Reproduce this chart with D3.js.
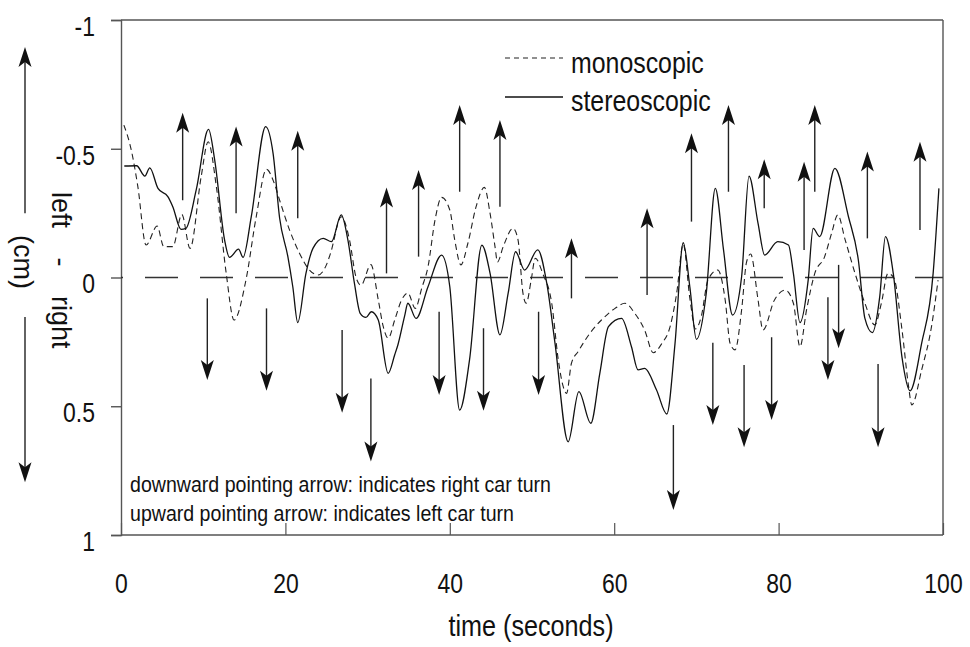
<!DOCTYPE html>
<html>
<head>
<meta charset="utf-8">
<script src="https://cdn.jsdelivr.net/npm/d3@7"></script>
<style>
  body { margin: 0; background: #fff; }
  svg { display: block; }
  text { font-family: "Liberation Sans", Arial, sans-serif; fill: #111; }
</style>
</head>
<body>
<div id="chart"></div>
<script>
// time (s), left-right offset (cm)
const stereoT = [0.4, 1.9, 2.9, 3.5, 4.5, 5.7, 6.3, 7.3, 7.9, 9.15, 10.65, 11.4, 12.6, 13.2, 14.3, 14.85, 15.85, 17.6, 18.5, 19.3, 20.3, 20.9, 21.5, 22.5, 23.35, 24.6, 25.6, 26.8, 27.6, 28.4, 29.1, 29.8, 30.45, 31.3, 32.5, 33.3, 33.7, 34.5, 34.9, 35.9, 37.35, 39.0, 40.0, 41.2, 42.4, 43.9, 44.9, 46.1, 47.1, 48.0, 49.1, 50.7, 51.8, 52.8, 54.4, 55.7, 57.15, 58.25, 59.3, 60.9, 62.1, 62.9, 63.7, 65.15, 66.4, 67.4, 68.4, 69.2, 70.0, 71.2, 72.3, 73.3, 74.4, 75.5, 76.4, 77.5, 78.3, 79.9, 81.2, 81.8, 82.6, 83.6, 84.2, 85.0, 86.85, 88.5, 89.7, 90.5, 91.4, 92.3, 93.0, 93.95, 95.0, 96.0, 97.4, 98.8, 99.5];
const stereoV = [-0.433, -0.434, -0.394, -0.426, -0.346, -0.314, -0.275, -0.187, -0.191, -0.34, -0.575, -0.456, -0.146, -0.078, -0.11, -0.078, -0.236, -0.586, -0.482, -0.23, -0.081, 0.036, 0.175, -0.016, -0.113, -0.152, -0.139, -0.243, -0.146, 0.023, 0.139, 0.155, 0.133, 0.165, 0.372, 0.3, 0.26, 0.15, 0.1, 0.159, 0.036, -0.087, 0.036, 0.515, 0.32, -0.126, -0.016, 0.223, 0.061, -0.1, -0.029, -0.107, 0.023, 0.256, 0.638, 0.443, 0.566, 0.372, 0.191, 0.159, 0.269, 0.359, 0.353, 0.437, 0.53, 0.256, -0.135, 0.036, 0.24, 0.061, -0.346, -0.107, 0.146, -0.003, -0.394, -0.21, -0.087, -0.139, -0.126, -0.016, 0.175, 0.01, -0.191, -0.159, -0.424, -0.236, -0.068, 0.159, 0.214, 0.075, -0.159, -0.016, 0.307, 0.44, 0.256, -0.016, -0.346];

const monoT = [0.35, 1.25, 2.05, 3.05, 4.4, 5.2, 6.3, 7.4, 8.4, 9.75, 10.6, 11.6, 12.8, 13.75, 15.2, 16.45, 17.7, 18.6, 19.3, 20.5, 21.7, 22.9, 24.0, 25.0, 25.5, 26.8, 27.8, 28.6, 29.2, 30.4, 31.3, 31.9, 32.5, 33.3, 34.1, 34.9, 35.8, 36.6, 37.35, 38.2, 39.0, 40.0, 40.6, 41.35, 42.2, 43.2, 44.2, 44.9, 45.5, 45.8, 46.5, 47.7, 48.3, 48.9, 49.3, 49.9, 50.4, 51.3, 52.4, 53.2, 53.8, 54.2, 54.8, 55.6, 57.2, 58.45, 60.1, 61.3, 62.5, 63.7, 64.75, 65.8, 66.8, 67.6, 68.4, 69.2, 69.9, 70.6, 71.4, 72.6, 73.5, 74.1, 74.7, 75.5, 76.1, 76.6, 77.5, 78.1, 79.5, 80.8, 81.8, 82.6, 83.4, 84.4, 85.6, 86.45, 87.2, 88.1, 89.3, 90.5, 91.7, 92.5, 93.3, 94.0, 95.0, 95.8, 96.2, 97.4, 98.6, 99.4];
const monoV = [-0.592, -0.495, -0.353, -0.126, -0.2, -0.12, -0.12, -0.245, -0.113, -0.391, -0.527, -0.353, -0.016, 0.165, 0.01, -0.236, -0.42, -0.37, -0.3, -0.185, -0.095, -0.03, -0.01, -0.05, -0.095, -0.236, -0.146, 0.0, 0.03, -0.05, 0.087, 0.19, 0.236, 0.165, 0.09, 0.06, 0.12, 0.04, -0.042, -0.223, -0.311, -0.262, -0.146, -0.049, -0.133, -0.275, -0.35, -0.249, -0.12, -0.06, -0.12, -0.191, -0.146, 0.061, 0.1, 0.01, -0.075, -0.016, 0.1, 0.32, 0.424, 0.45, 0.333, 0.288, 0.21, 0.165, 0.12, 0.1, 0.139, 0.204, 0.292, 0.256, 0.191, 0.061, -0.13, 0.08, 0.2, 0.15, 0.01, -0.029, 0.087, 0.256, 0.281, 0.126, -0.06, -0.091, 0.087, 0.204, 0.087, 0.049, 0.1, 0.269, 0.126, -0.016, -0.081, -0.172, -0.243, -0.146, -0.016, 0.1, 0.184, 0.1, -0.016, 0.0, 0.2, 0.42, 0.495, 0.359, 0.191, 0.01];

// car turns: upward arrows = left turn, downward arrows = right turn
const upT    = [7.5, 14.0, 21.5, 32.3, 36.2, 41.2, 46.1, 54.8, 64.0, 69.4, 73.9, 78.25, 83.1, 84.4, 90.8, 97.2];
const upFrom = [-0.30, -0.25, -0.23, -0.016, -0.081, -0.333, -0.275, 0.081, 0.068, -0.217, -0.333, -0.269, -0.107, -0.333, -0.152, -0.184];
const upTo   = [-0.64, -0.586, -0.57, -0.35, -0.417, -0.67, -0.612, -0.152, -0.269, -0.56, -0.67, -0.459, -0.45, -0.67, -0.489, -0.527];

const downT    = [10.5, 17.7, 26.9, 30.4, 38.7, 44.1, 50.8, 67.2, 72.0, 75.8, 79.15, 86.0, 87.3, 92.1];
const downFrom = [0.081, 0.12, 0.204, 0.392, 0.133, 0.197, 0.133, 0.573, 0.253, 0.34, 0.232, 0.077, -0.049, 0.336];
const downTo   = [0.398, 0.44, 0.525, 0.715, 0.456, 0.517, 0.456, 0.903, 0.573, 0.659, 0.553, 0.398, 0.275, 0.659];

const xTicks = [0, 20, 40, 60, 80, 100];
const yTicks = [-1, -0.5, 0, 0.5, 1];

const width = 970, height = 647;

var svg = d3.select("#chart").append("svg")
    .attr("width", width)
    .attr("height", height);

// set the ranges
var x = d3.scaleLinear().domain([0, 100]).range([121, 943]);
var y = d3.scaleLinear().domain([-1, 1]).range([20, 535]);

// no narrow font installed, so squeeze the text sideways round its anchor
function narrow(sel, s) {
  sel.each(function() {
    var t = d3.select(this);
    var tx = +t.attr("x") || 0, ty = +t.attr("y") || 0;
    t.attr("x", 0).attr("y", 0)
      .attr("transform", "translate(" + tx + "," + ty + ") scale(" + s + ",1)");
  });
}

// frame (top, right, bottom)
var frame = svg.append("g").attr("stroke", "#555").attr("stroke-width", 1.4).attr("fill", "none");
frame.append("line").attr("x1", x(0)).attr("x2", x(100)).attr("y1", y(-1)).attr("y2", y(-1));
frame.append("line").attr("x1", x(100)).attr("x2", x(100)).attr("y1", y(-1)).attr("y2", y(1));
frame.append("line").attr("x1", x(0)).attr("x2", x(100)).attr("y1", y(1)).attr("y2", y(1));

// y axis
var yAxis = svg.append("g")
    .attr("transform", "translate(" + x(0) + ",0)")
    .call(d3.axisLeft(y).tickValues(yTicks).tickSize(10).tickPadding(16)
      .tickFormat(function(d) { return String(d); }));
yAxis.selectAll("path, line").attr("stroke", "#555").attr("stroke-width", 1.4);
yAxis.selectAll("text").attr("font-size", 28).attr("dy", "0.55em").attr("fill", "#111");
narrow(yAxis.selectAll("text"), 0.82);

// x axis: ticks point up into the plot
var xAxis = svg.append("g")
    .attr("transform", "translate(0," + y(1) + ")")
    .call(d3.axisBottom(x).tickValues(xTicks).tickSizeInner(-12).tickSizeOuter(0).tickPadding(38));
xAxis.select(".domain").remove();
xAxis.selectAll("line").attr("stroke", "#555").attr("stroke-width", 1.2);
xAxis.selectAll("text").attr("font-size", 28).attr("fill", "#111");
narrow(xAxis.selectAll("text"), 0.82);
svg.selectAll(".tick text").attr("font-family", null);

// zero reference line
svg.append("line")
    .attr("x1", x(0)).attr("x2", x(100))
    .attr("y1", y(0)).attr("y2", y(0))
    .attr("stroke", "#333").attr("stroke-width", 1.6)
    .attr("stroke-dasharray", "33,22").attr("stroke-dashoffset", 31);

// define the lines
var valueline = d3.line()
    .x(function(d) { return x(d[0]); })
    .y(function(d) { return y(d[1]); })
    .curve(d3.curveMonotoneX);

var mono = monoT.map(function(t, i) { return [t, monoV[i]]; });
var stereo = stereoT.map(function(t, i) { return [t, stereoV[i]]; });

svg.append("path").datum(mono)
    .attr("fill", "none").attr("stroke", "#222").attr("stroke-width", 1.1)
    .attr("stroke-dasharray", "6,4")
    .attr("d", valueline);

svg.append("path").datum(stereo)
    .attr("fill", "none").attr("stroke", "#111").attr("stroke-width", 1.3)
    .attr("d", valueline);

// arrows
var head = "M0,0 L6.5,20 L0,15 L-6.5,20 Z";
function drawArrow(g, px, y1, y2) {
  var dir = y2 < y1 ? 1 : -1; // 1 = pointing up
  g.append("line")
    .attr("x1", px).attr("x2", px)
    .attr("y1", y1).attr("y2", y2 + dir * 14)
    .attr("stroke", "#222").attr("stroke-width", 1.4);
  g.append("path")
    .attr("d", head)
    .attr("fill", "#111")
    .attr("transform", "translate(" + px + "," + y2 + ") rotate(" + (dir === 1 ? 0 : 180) + ")");
}

var arrows = svg.append("g");
upT.forEach(function(t, i) { drawArrow(arrows, x(t), y(upFrom[i]), y(upTo[i])); });
downT.forEach(function(t, i) { drawArrow(arrows, x(t), y(downFrom[i]), y(downTo[i])); });

// side arrows next to the y label
drawArrow(arrows, 25, y(-0.25), y(-0.895));
drawArrow(arrows, 25, y(0.153), y(0.795));

// y label
svg.append("text")
    .attr("transform", "translate(52," + 192 + ") rotate(90)")
    .attr("font-size", 27)
    .attr("word-spacing", 22)
    .text("left - right");
svg.append("text")
    .attr("transform", "translate(14," + 262 + ") rotate(90)")
    .attr("text-anchor", "middle")
    .attr("font-size", 27)
    .text("(cm)");

// x label
var xLabel = svg.append("text")
    .attr("x", 531).attr("y", 636)
    .attr("text-anchor", "middle")
    .attr("font-size", 30)
    .text("time (seconds)");
narrow(xLabel, 0.84);

// legend
var legend = svg.append("g");
legend.append("line").attr("x1", 505).attr("x2", 563).attr("y1", 58).attr("y2", 58)
    .attr("stroke", "#222").attr("stroke-width", 1.1).attr("stroke-dasharray", "5,4");
legend.append("line").attr("x1", 505).attr("x2", 563).attr("y1", 97).attr("y2", 97)
    .attr("stroke", "#111").attr("stroke-width", 1.3);
var legText = legend.selectAll("text")
    .data([["monoscopic", 73], ["stereoscopic", 111]])
  .enter().append("text")
    .attr("x", 571).attr("y", function(d) { return d[1]; })
    .attr("font-size", 30)
    .text(function(d) { return d[0]; });
narrow(legText, 0.83);

// note
var note = svg.selectAll(".note")
    .data([["downward pointing arrow: indicates right car turn", 492], ["upward pointing arrow: indicates left car turn", 521]])
  .enter().append("text")
    .attr("class", "note")
    .attr("x", 130).attr("y", function(d) { return d[1]; })
    .attr("font-size", 22)
    .text(function(d) { return d[0]; });
narrow(note, 0.89);
</script>
</body>
</html>
